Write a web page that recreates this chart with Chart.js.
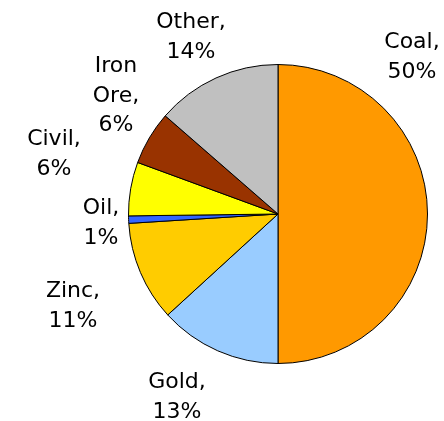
<!DOCTYPE html>
<html>
<head>
<meta charset="utf-8">
<script src="https://cdn.jsdelivr.net/npm/chart.js@4"></script>
<style>
    html, body { margin: 0; padding: 0; background: #fff; }
    canvas { display: block; }
</style>
</head>
<body>
<canvas id="pieChart" width="444" height="421"></canvas>
<script>
// Dữ liệu biểu đồ
const categories = ['Coal', 'Gold', 'Zinc', 'Oil', 'Civil', 'Iron Ore', 'Other'];
const shares = [50, 13.2, 10.8, 0.8, 5.8, 5.8, 13.6];
const sliceColors = ['#FF9900', '#99CCFF', '#FFCC00', '#3366FF', '#FFFF00', '#993300', '#C0C0C0'];

// Vị trí nhãn so với tâm biểu đồ (dòng đầu tiên)
const labelOffsets = [
    [134, -166], [-101, 174], [-205, 83], [-177, 0],
    [-224, -69], [-162, -142], [-87, -186]
];

// Hàm tạo các dòng nhãn: "Tên," + "xx%"
function labelLines(index) {
    const total = shares.reduce((a, b) => a + b, 0);
    const words = categories[index].split(' ');
    words[words.length - 1] += ',';
    words.push(Math.round(shares[index] / total * 100) + '%');
    return words;
}

const outsideLabels = {
    id: 'outsideLabels',
    afterDraw(chart) {
        const ctx = chart.ctx;
        const arc = chart.getDatasetMeta(0).data[0];
        ctx.save();
        ctx.font = "22px 'DejaVu Sans', sans-serif";
        ctx.fillStyle = '#000';
        ctx.textAlign = 'center';
        ctx.textBaseline = 'alphabetic';
        categories.forEach((c, i) => {
            const lines = labelLines(i);
            lines.forEach((line, k) => {
                ctx.fillText(line, arc.x + labelOffsets[i][0], arc.y + labelOffsets[i][1] + k * 29.5);
            });
        });
        ctx.restore();
    }
};

new Chart(document.getElementById('pieChart').getContext('2d'), {
    type: 'pie',
    data: {
        labels: categories,
        datasets: [{
            data: shares,
            backgroundColor: sliceColors,
            borderColor: '#000',
            borderWidth: 1
        }]
    },
    options: {
        responsive: false,
        animation: false,
        layout: {
            padding: { left: 128, right: 16, top: 64, bottom: 57 }
        },
        plugins: {
            legend: { display: false },
            tooltip: { enabled: false }
        }
    },
    plugins: [outsideLabels]
});
</script>
</body>
</html>
